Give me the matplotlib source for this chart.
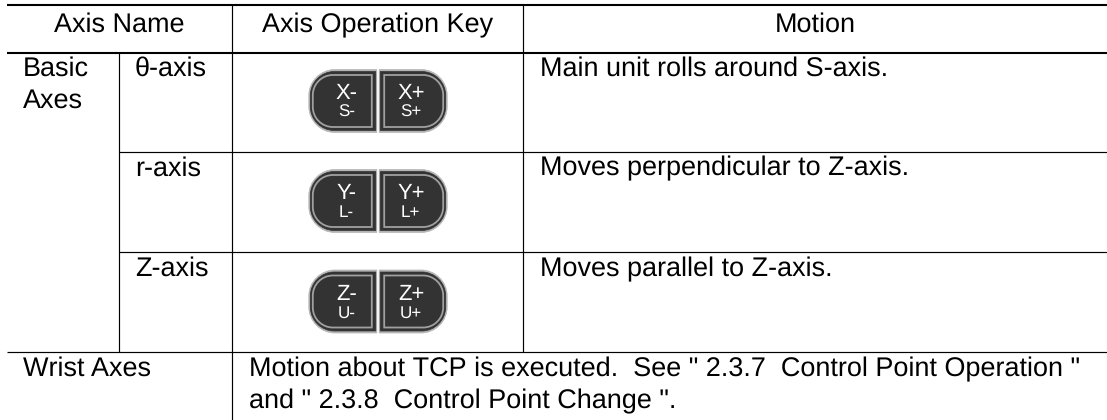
import matplotlib
matplotlib.use("Agg")
import matplotlib.pyplot as plt
from matplotlib.patches import PathPatch
from matplotlib.path import Path

plt.rcParams['font.family'] = ['Liberation Sans', 'DejaVu Sans']
plt.rcParams['text.hinting'] = 'no_hinting'
plt.rcParams['text.hinting_factor'] = 1

W, H = 1107, 420

# table contents
headers = ['Axis Name', 'Axis Operation Key', 'Motion']
group_label = ['Basic', 'Axes']
axis_names = ['θ-axis', 'r-axis', 'Z-axis']
motions = ['Main unit rolls around S-axis.',
           'Moves perpendicular to Z-axis.',
           'Moves parallel to Z-axis.']
key_main = [('X-', 'X+'), ('Y-', 'Y+'), ('Z-', 'Z+')]
key_sub = [('S-', 'S+'), ('L-', 'L+'), ('U-', 'U+')]
wrist_label = 'Wrist Axes'
wrist_text = ['Motion about TCP is executed.  See " 2.3.7  Control Point Operation "',
              'and " 2.3.8  Control Point Change ".']

row_baselines = [76, 175.5, 276]
key_centers = [101, 201, 301.5]

fig = plt.figure(figsize=(W / 100, H / 100), dpi=100)
ax = fig.add_axes([0, 0, 1, 1])
ax.set_xlim(0, W)
ax.set_ylim(H, 0)
ax.axis('off')


def half_key(cx, cy, side, face, edge, lw, w, h, r):
    # one half of the key, rounded on the outer side
    s = side
    k = 0.55 * r
    outer = cx + s * w
    verts = [(cx, cy - h), (outer - s * r, cy - h),
             (outer - s * r + s * k, cy - h), (outer, cy - h + r - k), (outer, cy - h + r),
             (outer, cy + h - r),
             (outer, cy + h - r + k), (outer - s * r + s * k, cy + h), (outer - s * r, cy + h),
             (cx, cy + h), (cx, cy - h)]
    codes = [Path.MOVETO, Path.LINETO,
             Path.CURVE4, Path.CURVE4, Path.CURVE4,
             Path.LINETO,
             Path.CURVE4, Path.CURVE4, Path.CURVE4,
             Path.LINETO, Path.CLOSEPOLY]
    ax.add_patch(PathPatch(Path(verts, codes), facecolor=face, edgecolor=edge, lw=lw))


def draw_key(cx, cy, main, sub):
    for side, m, s in [(-1, main[0], sub[0]), (1, main[1], sub[1])]:
        hub = cx + side * 1.2
        half_key(hub, cy, side, '#b4b4b4', '#b4b4b4', 0.5, 68, 31.5, 26)
        half_key(hub + side * 1, cy, side, '#333333', '#333333', 0.5, 65.5, 29.5, 24)
        half_key(hub + side * 5, cy, side, '#333333', '#a0a0a0', 1.3, 59, 26, 20)
        ax.text(cx + side * 32 + 1, cy - 2, m, color='white', fontsize=16, ha='center', va='baseline')
        ax.text(cx + side * 32 + 0.5, cy + 16, s, color='white', fontsize=12.5, ha='center', va='baseline')


# rules
ax.plot([7, W], [5, 5], color='black', lw=1.5, solid_capstyle='butt')
ax.plot([7, W], [52.7, 52.7], color='black', lw=1.5, solid_capstyle='butt')
ax.plot([119, W], [152, 152], color='black', lw=0.85, solid_capstyle='butt')
ax.plot([119, W], [252, 252], color='black', lw=0.85, solid_capstyle='butt')
ax.plot([7, W], [352, 352], color='black', lw=0.85, solid_capstyle='butt')
ax.plot([119, 119], [52, 352], color='black', lw=0.85, solid_capstyle='butt')
ax.plot([232, 232], [5, H], color='black', lw=0.85, solid_capstyle='butt')
ax.plot([523, 523], [5, 352], color='black', lw=0.85, solid_capstyle='butt')

fs = 19.15
ax.text(119.5, 32, headers[0], fontsize=fs, ha='center', va='baseline')
ax.text(377.5, 32, headers[1], fontsize=fs, ha='center', va='baseline')
ax.text(815, 32, headers[2], fontsize=fs, ha='center', va='baseline')

ax.text(23, 75.5, group_label[0], fontsize=fs, va='baseline')
ax.text(23, 108, group_label[1], fontsize=fs, va='baseline')

for i in range(3):
    ax.text(135, row_baselines[i], axis_names[i], fontsize=fs, va='baseline')
    ax.text(540, row_baselines[i], motions[i], fontsize=fs, va='baseline')
    draw_key(378, key_centers[i], key_main[i], key_sub[i])

ax.text(23, 376, wrist_label, fontsize=fs, va='baseline')
ax.text(249, 376, wrist_text[0], fontsize=fs, va='baseline')
ax.text(249, 408, wrist_text[1], fontsize=fs, va='baseline')

fig.savefig('out.png', dpi=100)
